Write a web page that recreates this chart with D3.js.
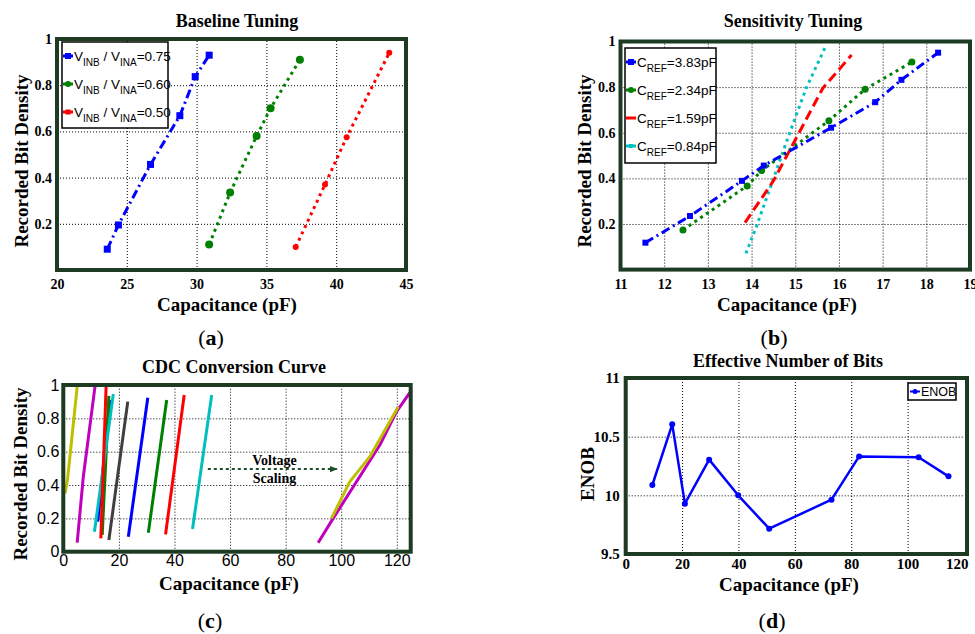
<!DOCTYPE html>
<html>
<head>
<meta charset="utf-8">
<script src="https://cdn.jsdelivr.net/npm/d3@7"></script>
<style>
  html, body { margin: 0; padding: 0; background: #ffffff; }
  svg { display: block; }
</style>
</head>
<body>
<svg id="chart" width="975" height="634"></svg>
<script>
// ---------------- DATA ----------------
// (a) Baseline Tuning
const capA075 = [23.6, 24.4, 26.7, 28.8, 29.9, 30.9];
const bdA075  = [0.09, 0.195, 0.457, 0.668, 0.837, 0.93];
const capA060 = [30.9, 32.4, 34.3, 35.3, 37.4];
const bdA060  = [0.11, 0.335, 0.58, 0.70, 0.91];
const capA050 = [37.1, 39.2, 40.75, 43.8];
const bdA050  = [0.10, 0.37, 0.575, 0.94];
const ticksAX = [20, 25, 30, 35, 40, 45];
const ticksAY = [0.2, 0.4, 0.6, 0.8, 1];

// (b) Sensitivity Tuning
const capB383 = [11.57, 12.59, 13.78, 14.28, 15.82, 16.83, 17.43, 18.27];
const bdB383  = [0.118, 0.235, 0.389, 0.456, 0.622, 0.734, 0.832, 0.951];
const capB234 = [12.43, 13.9, 14.23, 15.77, 16.6, 17.67];
const bdB234  = [0.174, 0.367, 0.434, 0.653, 0.791, 0.91];
const capB159 = [13.85, 14.5, 15.63, 16.29];
const bdB159  = [0.206, 0.389, 0.795, 0.941];
const capB084 = [13.87, 14.11, 14.49, 14.87, 15.25, 15.71];
const bdB084  = [0.071, 0.188, 0.393, 0.598, 0.795, 0.985];
const ticksBX = [11, 12, 13, 14, 15, 16, 17, 18, 19];
const ticksBY = [0.2, 0.4, 0.6, 0.8, 1];

// (c) CDC Conversion Curve
const cdcYellow1  = [[0.6, 0.35], [1.5, 0.43], [3.0, 0.67], [5.0, 0.99]];
const cdcMagenta1 = [[5.0, 0.054], [7.2, 0.45], [11.4, 0.99]];
const cdcBlue1    = [[12.4, 0.18], [16.8, 0.91]];
const cdcGreen1   = [[14.0, 0.10], [16.4, 0.935]];
const cdcCyan1    = [[11.2, 0.12], [18.0, 0.946]];
const cdcRed1     = [[13.5, 0.08], [15.4, 0.99]];
const cdcBlack    = [[16.4, 0.07], [23.2, 0.90]];
const cdcBlue2    = [[23.4, 0.09], [30.4, 0.924]];
const cdcGreen2   = [[30.6, 0.114], [37.2, 0.91]];
const cdcRed2     = [[36.8, 0.104], [43.5, 0.94]];
const cdcCyan2    = [[46.5, 0.136], [53.4, 0.94]];
const cdcMagenta2 = [[91.7, 0.054], [97.1, 0.2], [113.9, 0.64], [119.9, 0.84], [124.7, 0.954]];
const cdcYellow2  = [[96.5, 0.2], [103.1, 0.42], [110.3, 0.57], [120.5, 0.87]];
const ticksCX = [0, 20, 40, 60, 80, 100, 120];
const ticksCY = [0, 0.2, 0.4, 0.6, 0.8, 1];

// (d) Effective Number of Bits
const capD  = [9.45, 16.5, 21.0, 29.6, 39.9, 50.9, 73.0, 82.8, 103.9, 114.5];
const enobD = [10.088, 10.605, 9.929, 10.304, 10.0, 9.716, 9.963, 10.332, 10.324, 10.162];
const ticksDX = [0, 20, 40, 60, 80, 100, 120];
const ticksDY = [9.5, 10, 10.5, 11];

// ---------------- STYLE ----------------
const FRAME = "#1d3a22";
const SERIF = "'Liberation Serif', 'Times New Roman', serif";
const SANS = "'Liberation Sans', Arial, sans-serif";
const C = { blue: "#0000ff", green: "#008000", red: "#ff0000", cyan: "#00bfbf",
            magenta: "#bf00bf", yellow: "#bfbf00", black: "#3f3f3f" };

const svg = d3.select("#chart");

function makePanel(cfg) {
  const x = d3.scaleLinear().domain(cfg.xd).range([cfg.x0, cfg.x1]);
  const y = d3.scaleLinear().domain(cfg.yd).range([cfg.y1, cfg.y0]);
  const g = svg.append("g");

  // grid
  const gridX = cfg.xt.filter(v => v > cfg.xd[0] && v < cfg.xd[1]);
  const gridY = cfg.yt.filter(v => v > cfg.yd[0] && v < cfg.yd[1]);
  g.append("g").attr("transform", `translate(0,${cfg.y1})`)
    .call(d3.axisBottom(x).tickValues(gridX).tickSize(-(cfg.y1 - cfg.y0)).tickFormat(""))
    .call(s => s.select(".domain").remove())
    .call(s => s.selectAll("line").attr("stroke", "#000").attr("stroke-width", 1).attr("stroke-dasharray", "1,2"));
  g.append("g").attr("transform", `translate(${cfg.x0},0)`)
    .call(d3.axisLeft(y).tickValues(gridY).tickSize(-(cfg.x1 - cfg.x0)).tickFormat(""))
    .call(s => s.select(".domain").remove())
    .call(s => s.selectAll("line").attr("stroke", "#000").attr("stroke-width", 1).attr("stroke-dasharray", "1,2"));

  // tick labels via axes
  const fmt = cfg.fmt || (d => String(d));
  const xAx = g.append("g").attr("transform", `translate(0,${cfg.y1})`)
    .call(d3.axisBottom(x).tickValues(cfg.xt).tickSize(0).tickPadding(cfg.xpad).tickFormat(fmt))
    .call(s => s.select(".domain").remove())
    .call(s => s.selectAll("text").attr("font-family", cfg.tickFont).attr("font-weight", cfg.tickWeight)
      .attr("font-size", cfg.tickSize).attr("fill", "#000"));
  if (cfg.lastXEnd) {
    xAx.selectAll(".tick").filter(d => d === cfg.xt[cfg.xt.length - 1]).select("text")
      .attr("text-anchor", "end").attr("x", cfg.lastXEnd);
  }
  g.append("g").attr("transform", `translate(${cfg.x0},0)`)
    .call(d3.axisLeft(y).tickValues(cfg.yt).tickSize(0).tickPadding(cfg.ypad).tickFormat(fmt))
    .call(s => s.select(".domain").remove())
    .call(s => s.selectAll("text").attr("font-family", cfg.tickFont).attr("font-weight", cfg.tickWeight)
      .attr("font-size", cfg.tickSize).attr("fill", "#000"));

  // title
  g.append("text").attr("x", cfg.titleX).attr("y", cfg.titleY).attr("text-anchor", "middle")
    .attr("font-family", SERIF).attr("font-weight", "bold").attr("font-size", 18).text(cfg.title);
  // x label
  g.append("text").attr("x", cfg.xlabX).attr("y", cfg.xlabY).attr("text-anchor", "middle")
    .attr("font-family", SERIF).attr("font-weight", "bold").attr("font-size", 19).text("Capacitance (pF)");
  // y label
  g.append("text").attr("transform", `translate(${cfg.ylabX},${cfg.ylabY}) rotate(-90)`)
    .attr("text-anchor", "middle").attr("dy", "0.35em")
    .attr("font-family", SERIF).attr("font-weight", "bold").attr("font-size", 19).text(cfg.ylab);
  // panel letter
  const pl = g.append("text").attr("x", cfg.letterX).attr("y", cfg.letterY).attr("text-anchor", "middle")
    .attr("font-family", SERIF).attr("font-size", 22);
  pl.append("tspan").text("(");
  pl.append("tspan").attr("font-weight", "bold").text(cfg.letter);
  pl.append("tspan").text(")");

  const plot = g.append("g");
  const top = g.append("g");
  return { x, y, g, plot, top, cfg };
}

function drawFrame(p) {
  const c = p.cfg;
  const fr = c.frameX1 || c.x1;
  p.g.append("rect").attr("x", c.x0).attr("y", c.y0).attr("width", fr - c.x0).attr("height", c.y1 - c.y0)
    .attr("fill", "none").attr("stroke", FRAME).attr("stroke-width", 4);
}

function drawLine(p, xs, ys, color, width, dash) {
  const pts = xs.map((v, i) => [v, ys[i]]);
  p.plot.append("path").datum(pts)
    .attr("d", d3.line().x(d => p.x(d[0])).y(d => p.y(d[1])))
    .attr("fill", "none").attr("stroke", color).attr("stroke-width", width)
    .attr("stroke-dasharray", dash || null).attr("stroke-linejoin", "round");
}
function drawPairs(p, pts, color, width) {
  p.plot.append("path").datum(pts)
    .attr("d", d3.line().x(d => p.x(d[0])).y(d => p.y(d[1])))
    .attr("fill", "none").attr("stroke", color).attr("stroke-width", width).attr("stroke-linejoin", "round");
}
function drawMarkers(p, xs, ys, color, shape, size) {
  const pts = xs.map((v, i) => [v, ys[i]]);
  if (shape === "square") {
    p.plot.selectAll(null).data(pts).enter().append("rect")
      .attr("x", d => p.x(d[0]) - size / 2).attr("y", d => p.y(d[1]) - size / 2)
      .attr("width", size).attr("height", size).attr("fill", color);
  } else {
    p.plot.selectAll(null).data(pts).enter().append("circle")
      .attr("cx", d => p.x(d[0])).attr("cy", d => p.y(d[1])).attr("r", size / 2).attr("fill", color);
  }
}

// legend helper
function legendEntry(g, x, yc, color, dash, shape, msize, parts, fontSize, subSize) {
  g.append("line").attr("x1", x).attr("x2", x + 10).attr("y1", yc).attr("y2", yc)
    .attr("stroke", color).attr("stroke-width", 3).attr("stroke-dasharray", dash || null);
  if (shape === "square") {
    g.append("rect").attr("x", x + 5 - msize / 2).attr("y", yc - msize / 2).attr("width", msize).attr("height", msize).attr("fill", color);
  } else if (shape === "circle") {
    g.append("circle").attr("cx", x + 5).attr("cy", yc).attr("r", msize / 2).attr("fill", color);
  }
  const t = g.append("text").attr("x", x + 11).attr("y", yc + fontSize * 0.36)
    .attr("font-family", SANS).attr("font-size", fontSize);
  parts.forEach(pt => {
    if (pt.sub) {
      t.append("tspan").attr("font-size", subSize).attr("dy", 5).text(pt.t);
    } else {
      t.append("tspan").attr("dy", pt.up ? -5 : 0).text(pt.t);
    }
  });
}

// ---------------- PANEL A ----------------
const pA = makePanel({
  xd: [20, 45], yd: [0, 1], x0: 57, x1: 406, y0: 39, y1: 270,
  xt: ticksAX, yt: ticksAY, xpad: 9, ypad: 5,
  tickFont: SERIF, tickWeight: "bold", tickSize: 14,
  title: "Baseline Tuning", titleX: 237, titleY: 27,
  xlabX: 227, xlabY: 311, ylab: "Recorded Bit Density", ylabX: 21, ylabY: 161,
  letter: "a", letterX: 211, letterY: 345
});
drawLine(pA, capA075, bdA075, C.blue, 3, "9,4,2,4");
drawMarkers(pA, capA075, bdA075, C.blue, "square", 7);
drawLine(pA, capA060, bdA060, C.green, 3, "3,4");
drawMarkers(pA, capA060, bdA060, C.green, "circle", 8);
drawLine(pA, capA050, bdA050, C.red, 3, "3,4");
drawMarkers(pA, capA050, bdA050, C.red, "circle", 6);
{
  const lg = pA.top;
  lg.append("rect").attr("x", 62).attr("y", 42).attr("width", 106).attr("height", 86)
    .attr("fill", "#fff").attr("stroke", "#000").attr("stroke-width", 1.5);
  const ent = [["0.75", C.blue, "square", 6], ["0.60", C.green, "circle", 6], ["0.50", C.red, null, 5]];
  ent.forEach((e, i) => {
    legendEntry(lg, 63, 56 + i * 28, e[1], null, e[2] || "square", e[3],
      [{ t: "V" }, { t: "INB", sub: true }, { t: " / V", up: true }, { t: "INA", sub: true }, { t: "=" + e[0], up: true }],
      13.5, 10);
  });
}
drawFrame(pA);

// ---------------- PANEL B ----------------
const pB = makePanel({
  xd: [11, 19], yd: [0, 1], x0: 620.5, x1: 970, y0: 41.5, y1: 269.6,
  xt: ticksBX, yt: ticksBY, xpad: 9, ypad: 5,
  tickFont: SERIF, tickWeight: "bold", tickSize: 14,
  title: "Sensitivity Tuning", titleX: 793, titleY: 27,
  xlabX: 787, xlabY: 311, ylab: "Recorded Bit Density", ylabX: 584, ylabY: 161,
  letter: "b", letterX: 774, letterY: 345
});
drawLine(pB, capB084, bdB084, C.cyan, 3, "3,4");
drawLine(pB, capB159, bdB159, C.red, 3, "10,5");
drawLine(pB, capB234, bdB234, C.green, 3, "3,4");
drawMarkers(pB, capB234, bdB234, C.green, "circle", 7);
drawLine(pB, capB383, bdB383, C.blue, 3, "9,4,2,4");
drawMarkers(pB, capB383, bdB383, C.blue, "square", 6);
{
  const lg = pB.top;
  lg.append("rect").attr("x", 625).attr("y", 48).attr("width", 91).attr("height", 115)
    .attr("fill", "#fff").attr("stroke", "#000").attr("stroke-width", 1.5);
  const ent = [["3.83", C.blue, "square", 6], ["2.34", C.green, "circle", 6], ["1.59", C.red, null, 0], ["0.84", C.cyan, "square", 4]];
  ent.forEach((e, i) => {
    legendEntry(lg, 626, 62 + i * 28, e[1], null, e[2], e[3],
      [{ t: "C" }, { t: "REF", sub: true }, { t: "=" + e[0] + "pF", up: true }],
      13.5, 10);
  });
}
drawFrame(pB);

// ---------------- PANEL C ----------------
const pC = makePanel({
  xd: [0, 125], yd: [0, 1], x0: 63.3, x1: 410.7, y0: 385, y1: 551.7,
  xt: ticksCX, yt: ticksCY, xpad: 3, ypad: 4,
  tickFont: SANS, tickWeight: "normal", tickSize: 16,
  title: "CDC Conversion Curve", titleX: 234, titleY: 373,
  xlabX: 229, xlabY: 590, ylab: "Recorded Bit Density", ylabX: 20, ylabY: 474,
  letter: "c", letterX: 210, letterY: 628
});
[[cdcYellow1, C.yellow], [cdcMagenta1, C.magenta], [cdcBlue1, C.blue], [cdcGreen1, C.green],
 [cdcCyan1, C.cyan], [cdcRed1, C.red], [cdcBlack, C.black], [cdcBlue2, C.blue], [cdcGreen2, C.green],
 [cdcRed2, C.red], [cdcCyan2, C.cyan], [cdcMagenta2, C.magenta], [cdcYellow2, C.yellow]]
  .forEach(s => drawPairs(pC, s[0], s[1], 3));
{
  const defs = svg.append("defs");
  defs.append("marker").attr("id", "arrowC").attr("viewBox", "0 0 10 10").attr("refX", 9).attr("refY", 5)
    .attr("markerWidth", 4).attr("markerHeight", 4).attr("orient", "auto")
    .append("path").attr("d", "M0,1 L10,5 L0,9 Z").attr("fill", "#1f4f2a");
  pC.top.append("line").attr("x1", pC.x(52)).attr("x2", pC.x(98.5)).attr("y1", pC.y(0.496)).attr("y2", pC.y(0.496))
    .attr("stroke", "#1f4f2a").attr("stroke-width", 2).attr("stroke-dasharray", "3,3").attr("marker-end", "url(#arrowC)");
  pC.top.append("text").attr("x", pC.x(76)).attr("y", pC.y(0.52)).attr("text-anchor", "middle")
    .attr("font-family", SERIF).attr("font-weight", "bold").attr("font-size", 14).text("Voltage");
  pC.top.append("text").attr("x", pC.x(76)).attr("y", pC.y(0.41)).attr("text-anchor", "middle")
    .attr("font-family", SERIF).attr("font-weight", "bold").attr("font-size", 14).text("Scaling");
}
drawFrame(pC);

// ---------------- PANEL D ----------------
const pD = makePanel({
  xd: [0, 120], yd: [9.5, 11], x0: 625.7, x1: 964, frameX1: 967, y0: 378, y1: 554,
  xt: ticksDX, yt: ticksDY, xpad: 4, ypad: 6, lastXEnd: 4,
  tickFont: SERIF, tickWeight: "bold", tickSize: 15,
  title: "Effective Number of Bits", titleX: 788, titleY: 367,
  xlabX: 789, xlabY: 591, ylab: "ENOB", ylabX: 587, ylabY: 474,
  letter: "d", letterX: 772, letterY: 628
});
drawLine(pD, capD, enobD, C.blue, 2.5, null);
drawMarkers(pD, capD, enobD, C.blue, "circle", 6);
{
  const lg = pD.top;
  lg.append("rect").attr("x", 908).attr("y", 383).attr("width", 48).attr("height", 17)
    .attr("fill", "#fff").attr("stroke", "#000").attr("stroke-width", 1.5);
  lg.append("line").attr("x1", 910).attr("x2", 920).attr("y1", 391.5).attr("y2", 391.5).attr("stroke", C.blue).attr("stroke-width", 2);
  lg.append("circle").attr("cx", 915).attr("cy", 391.5).attr("r", 2.5).attr("fill", C.blue);
  lg.append("text").attr("x", 921).attr("y", 396).attr("font-family", SANS).attr("font-size", 12.5)
    .text("ENOB");
}
drawFrame(pD);
</script>
</body>
</html>
